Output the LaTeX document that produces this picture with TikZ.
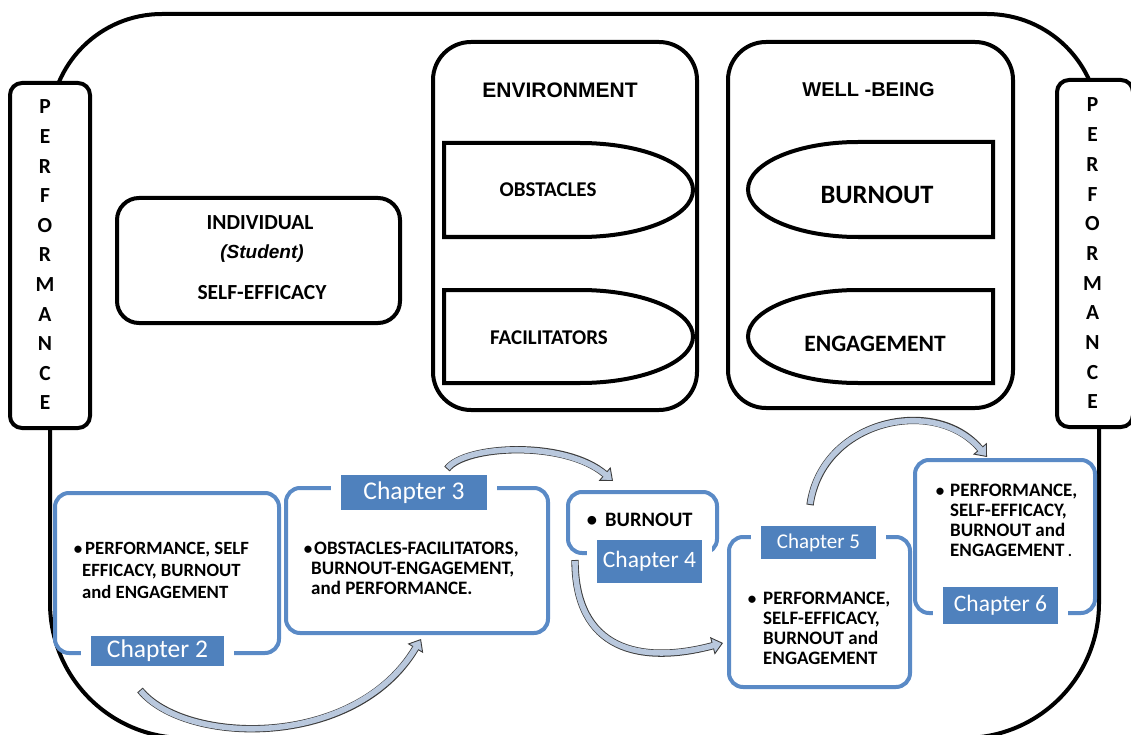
\documentclass[tikz,border=0pt]{standalone}
\usepackage{fontspec}
\setmainfont{Carlito}
\newfontfamily\arialf{Liberation Sans}
\usetikzlibrary{arrows.meta}
\definecolor{chapblue}{HTML}{4F81BD}
\definecolor{boxblue}{HTML}{5A8AC6}
\definecolor{arrfill}{HTML}{B9C8DD}
\definecolor{arrline}{HTML}{3C3C3C}
\newcommand{\fsz}[1]{\fontsize{#1}{#1}\selectfont}
\begin{document}
\begin{tikzpicture}[x=1pt,y=-1pt,
  frameline/.style={draw=black, line width=4pt},
  blackbox/.style={draw=black, line width=4pt, fill=white, inner sep=0pt},
  halfshape/.style={draw=black, line width=4pt, fill=white},
  perfletter/.style={font=\fsz{21.5}\bfseries, inner sep=0pt},
  toptext/.style={inner sep=0pt},
  chapbox/.style={draw=boxblue, line width=4pt, rounded corners=14pt, fill=white, inner sep=0pt},
  chaplabel/.style={fill=chapblue, draw=white, line width=10pt, text=white, inner sep=0pt},
  chtext/.style={anchor=base west, inner sep=0pt, font=\fsz{19}\bfseries},
  bul/.style={anchor=base, inner sep=0pt, font=\fsz{17}\bfseries},
  arrowouter/.style={draw=arrline, line width=7.3pt, -{Triangle[length=11pt,width=18pt,line width=0.9pt,fill=arrfill]}},
  arrowinner/.style={draw=arrfill, line width=5.6pt, shorten >=9pt, shorten <=1pt},
]
\useasboundingbox (0,0) rectangle (1131,735);

% outer frame
\draw[frameline] (50,400) -- (50,126) .. controls (50,64.1) and (100.1,14) .. (162,14)
  -- (987,14) .. controls (1048.9,14) and (1099,64.1) .. (1099,126)
  -- (1099,603) .. controls (1099,677.6) and (1038.6,738) .. (964,738)
  -- (185,738) .. controls (110.4,738) and (50,677.6) .. (50,603) -- cycle;

% performance bars
\node[blackbox, rounded corners=12pt, minimum width=80pt, minimum height=345pt] (perfL) at (50,255.5) {};
\node[blackbox, rounded corners=12pt, minimum width=76pt, minimum height=347pt] (perfR) at (1095,253.5) {};
\foreach \l [count=\i from 0] in {P,E,R,F,O,R,M,A,N,C,E} {
  \node[perfletter] (pl\i) at (45,{107+29.6*\i}) {\l};
  \node[perfletter] (pr\i) at (1092.5,{105+29.7*\i}) {\l};
}

% individual
\node[blackbox, rounded corners=22pt, minimum width=283pt, minimum height=125pt] (indiv) at (258.5,260.5) {};
\node[toptext, font=\fsz{21.5}\bfseries] (indivT) at (260,223) {INDIVIDUAL};
\node[toptext, font=\arialf\fsz{19}\bfseries\itshape] (student) at (262,254) {(Student)};
\node[toptext, font=\fsz{21.5}\bfseries] (selfeff) at (262,293) {SELF-EFFICACY};

% environment
\node[blackbox, rounded corners=38pt, minimum width=264pt, minimum height=368pt] (envbox) at (565,226) {};
\node[toptext, font=\arialf\fsz{21}\bfseries] (env) at (560,90) {ENVIRONMENT};
\draw[halfshape] (580,143) -- (444,143) -- (444,237) -- (580,237) .. controls (642.4,237) and (693,216) .. (693,190) .. controls (693,164) and (642.4,143) .. (580,143) -- cycle;
\draw[halfshape] (580,290) -- (444,290) -- (444,383) -- (580,383) .. controls (642.4,383) and (693,362.2) .. (693,336.5) .. controls (693,310.8) and (642.4,290) .. (580,290) -- cycle;
\node[toptext, font=\fsz{21}\bfseries] (obst) at (548,190) {OBSTACLES};
\node[toptext, font=\fsz{21}\bfseries] (facil) at (549,338) {FACILITATORS};

% well-being
\node[blackbox, rounded corners=38pt, minimum width=285pt, minimum height=366pt] (wbbox) at (870.5,225) {};
\node[toptext, font=\arialf\fsz{20}\bfseries] (wb) at (868.5,90) {WELL -BEING};
\draw[halfshape] (858,142) -- (993,142) -- (993,237) -- (858,237) .. controls (797.2,237) and (748,215.7) .. (748,189.5) .. controls (748,163.3) and (797.2,142) .. (858,142) -- cycle;
\draw[halfshape] (858,290) -- (993,290) -- (993,383) -- (858,383) .. controls (797.2,383) and (748,362.2) .. (748,336.5) .. controls (748,310.8) and (797.2,290) .. (858,290) -- cycle;
\node[toptext, font=\fsz{26.5}\bfseries] (burn) at (877,195) {BURNOUT};
\node[toptext, font=\fsz{23.5}\bfseries] (engag) at (875,344) {ENGAGEMENT};

% chapter boxes
\node[chapbox, minimum width=224pt, minimum height=160pt] (ch2) at (167,573) {};
\node[chapbox, minimum width=262pt, minimum height=145pt] (ch3) at (417,560.5) {};
\node[chapbox, minimum width=149pt, minimum height=61pt] (ch4) at (642.5,522.5) {};
\node[chapbox, minimum width=181pt, minimum height=150pt] (ch5) at (819.5,612) {};
\node[chapbox, minimum width=180pt, minimum height=153pt] (ch6) at (1005,536.5) {};

% chapter labels
\node[chaplabel, minimum width=143pt, minimum height=40pt, font=\fsz{25.5}] (l2) at (157.5,651) {Chapter 2};
\node[chaplabel, minimum width=156pt, minimum height=45pt, font=\fsz{25.5}] (l3) at (414,492.5) {Chapter 3};
\node[chaplabel, minimum width=115pt, minimum height=53pt, font=\fsz{23.5}] (l4) at (649.5,561.5) {Chapter 4};
\node[chaplabel, minimum width=125pt, minimum height=43pt, font=\fsz{21}] (l5) at (818.5,542.5) {Chapter 5};
\node[chaplabel, minimum width=125pt, minimum height=47pt, font=\fsz{23.5}] (l6) at (1000.5,605.5) {Chapter 6};

% chapter 2 text
\node[bul] (b2) at (78,554) {\textbullet};
\node[chtext, font=\fsz{18.7}\bfseries] (t2a) at (85,554) {PERFORMANCE, SELF};
\node[chtext, font=\fsz{18.7}\bfseries] (t2b) at (82,576) {EFFICACY, BURNOUT};
\node[chtext, font=\fsz{18.7}\bfseries] (t2c) at (82,598) {and ENGAGEMENT};

% chapter 3 text
\node[bul] (b3) at (308,554) {\textbullet};
\node[chtext] (t3a) at (314,554) {OBSTACLES-FACILITATORS,};
\node[chtext] (t3b) at (311,574) {BURNOUT-ENGAGEMENT,};
\node[chtext] (t3c) at (311,594) {and PERFORMANCE.};

% chapter 4 text
\node[bul, font=\fsz{20.5}\bfseries] (b4) at (592,526.6) {\textbullet};
\node[chtext, font=\fsz{20.5}\bfseries] (t4a) at (605,526.6) {BURNOUT};

% chapter 5 text
\node[bul] (b5) at (752,604) {\textbullet};
\node[chtext] (t5a) at (763,604) {PERFORMANCE,};
\node[chtext] (t5b) at (763,624) {SELF-EFFICACY,};
\node[chtext] (t5c) at (763,644) {BURNOUT and};
\node[chtext] (t5d) at (763,664) {ENGAGEMENT};

% chapter 6 text
\node[bul] (b6) at (940,496) {\textbullet};
\node[chtext] (t6a) at (950,496) {PERFORMANCE,};
\node[chtext] (t6b) at (950,516) {SELF-EFFICACY,};
\node[chtext] (t6c) at (950,536) {BURNOUT and};
\node[chtext] (t6d) at (950,556) {ENGAGEMENT{\mdseries\,.}};

% arrows
\coordinate (a1s) at (140,690); \coordinate (a1e) at (421,639);
\coordinate (a2s) at (447,469); \coordinate (a2e) at (613,481);
\coordinate (a3s) at (575,560); \coordinate (a3e) at (723,643);
\coordinate (a4s) at (810,505); \coordinate (a4e) at (987,457);
\draw[arrowouter] (a1s) .. controls (185,745) and (355,750) .. (a1e);
\draw[arrowinner] (a1s) .. controls (185,745) and (355,750) .. (a1e);
\draw[arrowouter] (a2s) .. controls (465,445) and (565,440) .. (a2e);
\draw[arrowinner] (a2s) .. controls (465,445) and (565,440) .. (a2e);
\draw[arrowouter] (a3s) .. controls (575,650) and (640,665) .. (a3e);
\draw[arrowinner] (a3s) .. controls (575,650) and (640,665) .. (a3e);
\draw[arrowouter] (a4s) .. controls (822,420) and (935,395) .. (a4e);
\draw[arrowinner] (a4s) .. controls (822,420) and (935,395) .. (a4e);
\end{tikzpicture}
\end{document}
